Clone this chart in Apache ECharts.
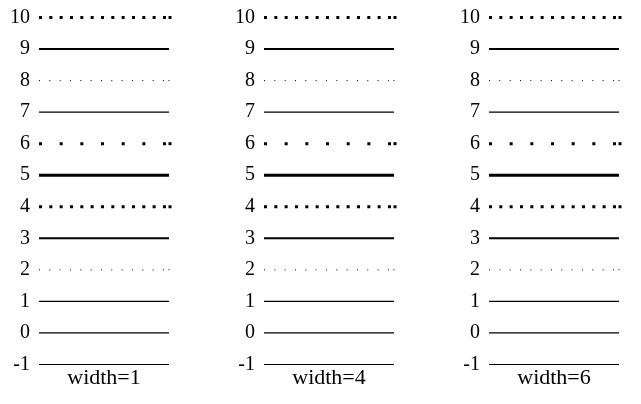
<!DOCTYPE html>
<html>
<head>
<meta charset="utf-8">
<script src="https://cdn.jsdelivr.net/npm/echarts@6/dist/echarts.min.js"></script>
<style>
html,body{margin:0;padding:0;background:#fff;}
#c{width:641px;height:404px;}
</style>
</head>
<body>
<div id="c"></div>
<script>
// data
const rowValues = [10, 9, 8, 7, 6, 5, 4, 3, 2, 1, 0, -1];
const panelLabels = ['width=1', 'width=4', 'width=6'];
const yTickMin = -1, yTickMax = 10, yTickStep = 1;

// styles (kept apart from data)
const rowWidths = [3, 2, 1, 1, 3, 3, 3, 2, 1, 1, 1, 1];
const rowDash = [[3, 7.33], 'solid', [1, 9.33], 'solid', [3, 17.67], 'solid', [3, 7.33], 'solid', [1, 9.33], 'solid', 'solid', 'solid'];
const panelLefts = [39, 264, 489];
const panelWidth = 130;

const font = '"Liberation Serif", "Times New Roman", serif';
const grids = [], xAxes = [], yAxes = [], series = [];
panelLabels.forEach((lab, p) => {
  grids.push({left: panelLefts[p], width: panelWidth, top: 17.5, bottom: 39.5, containLabel: false});
  xAxes.push({
    type: 'value', gridIndex: p, min: 0, max: 1,
    axisLine: {show: false}, axisTick: {show: false}, axisLabel: {show: false}, splitLine: {show: false},
    name: lab, nameLocation: 'middle', nameGap: 3,
    nameTextStyle: {fontFamily: font, fontSize: 22, color: '#000'}
  });
  yAxes.push({
    type: 'value', gridIndex: p, min: yTickMin, max: yTickMax, interval: yTickStep,
    axisLine: {show: false}, axisTick: {show: false}, splitLine: {show: false},
    axisLabel: {fontFamily: font, fontSize: 20, color: '#000', margin: 9}
  });
  rowValues.forEach((v, i) => {
    const dashed = Array.isArray(rowDash[i]);
    const w = rowWidths[i];
    series.push({
      type: 'line', xAxisIndex: p, yAxisIndex: p,
      symbol: 'none', showSymbol: true, silent: true,
      lineStyle: {color: '#000', width: w === 1 && !dashed ? 1.2 : w, type: rowDash[i], cap: 'butt'},
      itemStyle: {color: '#000', borderWidth: 0},
      data: [
        [0, v],
        dashed ? {value: [1, v], symbol: 'rect', symbolSize: [w, w], symbolOffset: [w === 3 ? 1 : 0, 0]} : [1, v]
      ]
    });
  });
});

const chart = echarts.init(document.getElementById('c'), null, {renderer: 'canvas'});
chart.setOption({
  animation: false,
  backgroundColor: '#fff',
  grid: grids, xAxis: xAxes, yAxis: yAxes, series: series
});
</script>
</body>
</html>
